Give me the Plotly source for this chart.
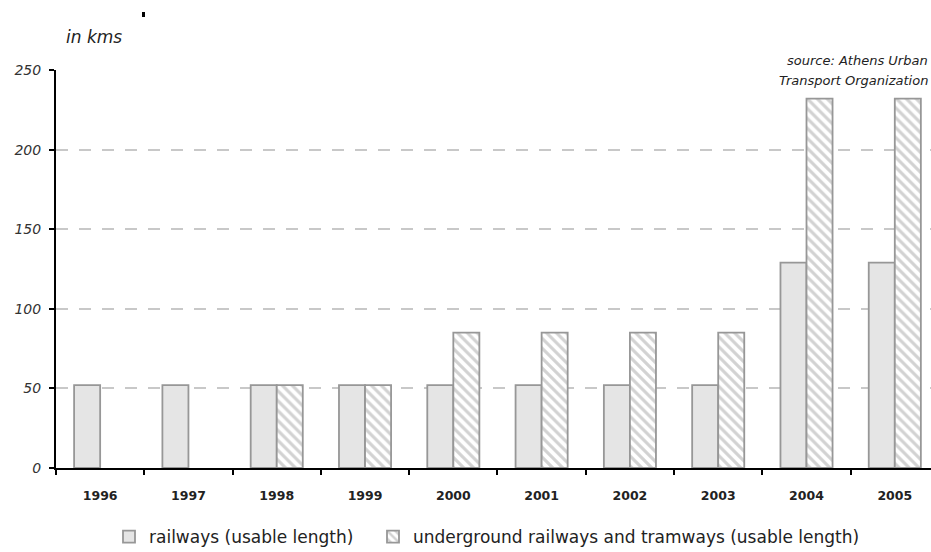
import plotly.graph_objects as go

# Network length by year (km)
years = ["1996", "1997", "1998", "1999", "2000", "2001", "2002", "2003", "2004", "2005"]
railways = [52, 52, 52, 52, 52, 52, 52, 52, 129, 129]
underground = [None, None, 52, 52, 85, 85, 85, 85, 232, 232]
y_ticks = [0, 50, 100, 150, 200, 250]

FONT = "DejaVu Sans"
OUTLINE = "#979797"
W, H = 931, 552
L, R, T, B = 56, 0, 70, 84


def px_x(px):
    return (px - L) / (W - L - R)


def px_y(py):
    return (H - B - py) / (H - T - B)


legend_font = dict(family=FONT, size=17, color="#222")

fig = go.Figure()
fig.add_trace(go.Bar(
    x=years, y=railways, name="railways (usable length)",
    marker=dict(color="#e5e5e5", line=dict(color=OUTLINE, width=1.8)),
    legend="legend",
))
fig.add_trace(go.Bar(
    x=years, y=underground, name="underground railways and tramways (usable length)",
    marker=dict(
        color="white",
        line=dict(color=OUTLINE, width=1.8),
        pattern=dict(shape="\\", fgcolor="#a6a6a6", bgcolor="white", size=7, solidity=0.45),
    ),
    legend="legend2",
))

fig.update_layout(
    width=W, height=H,
    margin=dict(l=L, r=R, t=T, b=B, autoexpand=False),
    paper_bgcolor="white", plot_bgcolor="white",
    barmode="group", bargap=0.41, bargroupgap=0,
    font=dict(family=FONT, color="#222"),
    showlegend=True,
    legend=dict(
        orientation="h", xref="container", yref="container",
        x=109 / W, y=1 - 519 / H, xanchor="left", yanchor="top",
        font=legend_font, itemwidth=30,
    ),
    legend2=dict(
        orientation="h", xref="container", yref="container",
        x=373 / W, y=1 - 519 / H, xanchor="left", yanchor="top",
        font=legend_font, itemwidth=30,
    ),
    xaxis=dict(
        type="category", range=[-0.5, 9.41], automargin=False,
        showline=True, linecolor="black", linewidth=2,
        ticks="outside", tickson="boundaries", ticklen=5, tickwidth=2, tickcolor="black",
        tickfont=dict(family=FONT, size=12.5, weight="bold", color="#222"),
        ticklabelstandoff=15,
        showgrid=False, zeroline=False,
    ),
    yaxis=dict(
        range=[0, 250], tickvals=y_ticks, automargin=False,
        showline=True, linecolor="black", linewidth=2,
        ticks="outside", ticklen=5, tickwidth=2, tickcolor="black",
        tickfont=dict(family=FONT, size=14, style="italic", color="#333"),
        ticklabelstandoff=5,
        showgrid=True, gridcolor="#c8c8c8", gridwidth=2, griddash="12px,11px",
        zeroline=False,
    ),
)

fig.add_annotation(
    text="in kms", xref="paper", yref="paper", x=px_x(64), y=px_y(37),
    xanchor="left", yanchor="middle", showarrow=False,
    font=dict(family=FONT, size=17, style="italic", color="#222"),
)
fig.add_shape(
    type="line", xref="paper", yref="paper",
    x0=px_x(143.5), x1=px_x(143.5), y0=px_y(12), y1=px_y(17),
    line=dict(color="black", width=3),
)
fig.add_annotation(
    text="source: Athens Urban", xref="paper", yref="paper", x=px_x(930), y=px_y(61),
    xanchor="right", yanchor="middle", showarrow=False,
    font=dict(family=FONT, size=13, style="italic", color="#222"),
)
fig.add_annotation(
    text="Transport Organization", xref="paper", yref="paper", x=px_x(930), y=px_y(81),
    xanchor="right", yanchor="middle", showarrow=False,
    font=dict(family=FONT, size=13, style="italic", color="#222"),
)

fig.write_html("out.html")
